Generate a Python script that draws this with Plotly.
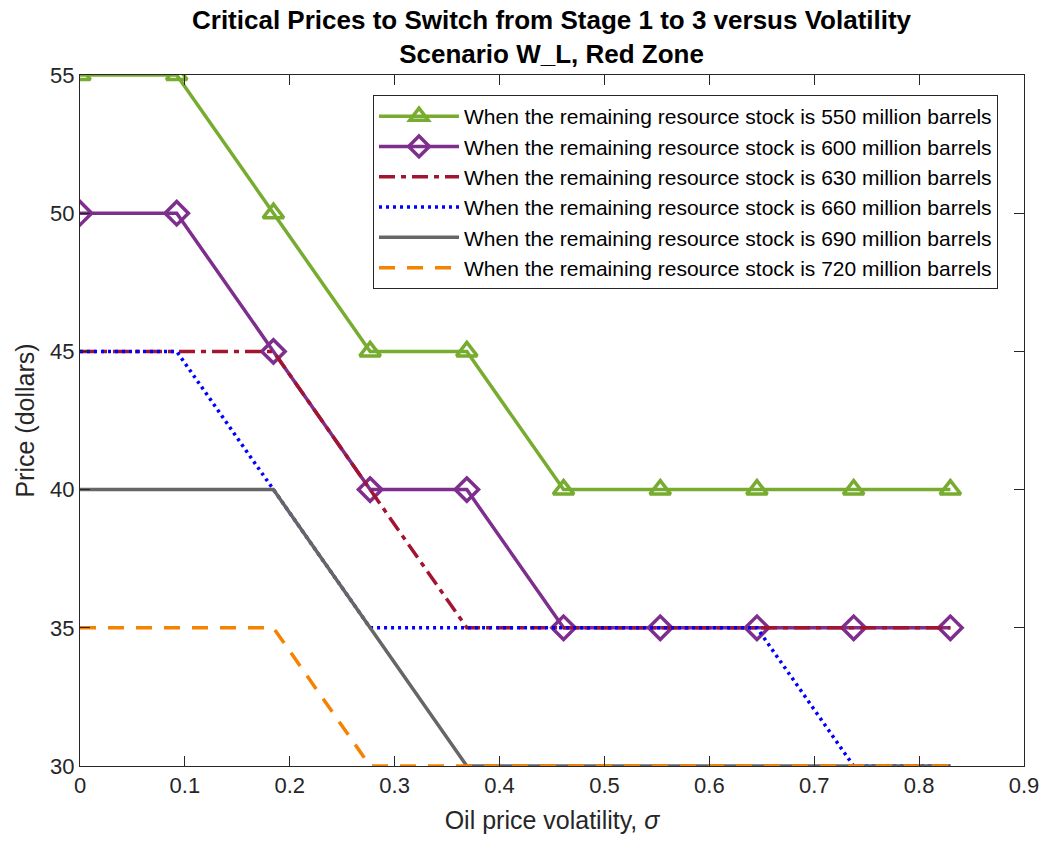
import plotly.graph_objects as go

# Oil price volatility (sigma) grid
sigma = [0.0, 0.0922, 0.1844, 0.2766, 0.3688, 0.461, 0.5532, 0.6454, 0.7376, 0.8298]

# Critical prices (dollars) by remaining resource stock
price_550 = [55, 55, 50, 45, 45, 40, 40, 40, 40, 40]
price_600 = [50, 50, 45, 40, 40, 35, 35, 35, 35, 35]
price_630 = [45, 45, 45, 40, 35, 35, 35, 35, 35, 35]
price_660 = [45, 45, 40, 35, 35, 35, 35, 35, 30, 30]
price_690 = [40, 40, 40, 35, 30, 30, 30, 30, 30, 30]
price_720 = [35, 35, 35, 30, 30, 30, 30, 30, 30, 30]

stocks = [550, 600, 630, 660, 690, 720]
series = [price_550, price_600, price_630, price_660, price_690, price_720]
colors = ["#77AC30", "#7E2F8E", "#A2142F", "#0000FF", "#666666", "#F58200"]
dashes = ["solid", "solid", "16px,6px,5px,6px", "3px,4px", "solid", "16px,12px"]
markers = ["triangle-up-open", "diamond-open", None, None, None, None]

title_lines = [
    "Critical Prices to Switch from Stage 1 to 3 versus Volatility",
    "Scenario W_L, Red Zone",
]

fig = go.Figure()
for stock, vals, col, dash, sym in zip(stocks, series, colors, dashes, markers):
    kw = {}
    if sym:
        kw["marker"] = dict(symbol=sym, size=18, color=col, line=dict(color=col, width=3.5))
    fig.add_trace(go.Scatter(
        x=sigma, y=vals, mode="lines+markers" if sym else "lines",
        name=f"When the remaining resource stock is {stock} million barrels",
        line=dict(color=col, width=3.5, dash=dash),
        **kw,
    ))

axis_common = dict(
    showline=True, linecolor="#262626", linewidth=1, mirror="ticks",
    ticks="inside", ticklen=10, tickcolor="#262626", tickwidth=1,
    showgrid=False, zeroline=False,
    tickfont=dict(family="Liberation Sans", size=22, color="#262626"),
)

# Two-line bold heading centred over the axes
fig.add_annotation(
    text="<br>".join(f"<b>{t}</b>" for t in title_lines),
    xref="paper", yref="paper", x=0.5, y=1, xanchor="center", yanchor="bottom",
    yshift=4, showarrow=False, align="center",
    font=dict(family="Liberation Sans", size=26, color="black"),
)

fig.update_layout(
    width=1051, height=846,
    margin=dict(l=80, r=27, t=75, b=80),
    paper_bgcolor="white", plot_bgcolor="white",
    font=dict(family="Liberation Sans", color="#262626"),
    xaxis=dict(
        range=[0, 0.9], tickmode="array",
        tickvals=[0, 0.1, 0.2, 0.3, 0.4, 0.5, 0.6, 0.7, 0.8, 0.9],
        ticktext=["0", "0.1", "0.2", "0.3", "0.4", "0.5", "0.6", "0.7", "0.8", "0.9"],
        title=dict(text="Oil price volatility, <i>σ</i>", font=dict(size=25, color="#262626"), standoff=14),
        **axis_common,
    ),
    yaxis=dict(
        range=[30, 55], tickmode="array",
        tickvals=[30, 35, 40, 45, 50, 55],
        title=dict(text="Price (dollars)", font=dict(size=25, color="#262626"), standoff=8),
        **axis_common,
    ),
    legend=dict(
        x=(373 - 80) / 944, y=(766 - 95) / 691, xanchor="left", yanchor="top",
        bgcolor="white", bordercolor="#262626", borderwidth=1,
        font=dict(family="Liberation Sans", size=21, color="black"),
        tracegroupgap=0, itemwidth=80,
    ),
    showlegend=True,
)

fig.write_html("out.html")
